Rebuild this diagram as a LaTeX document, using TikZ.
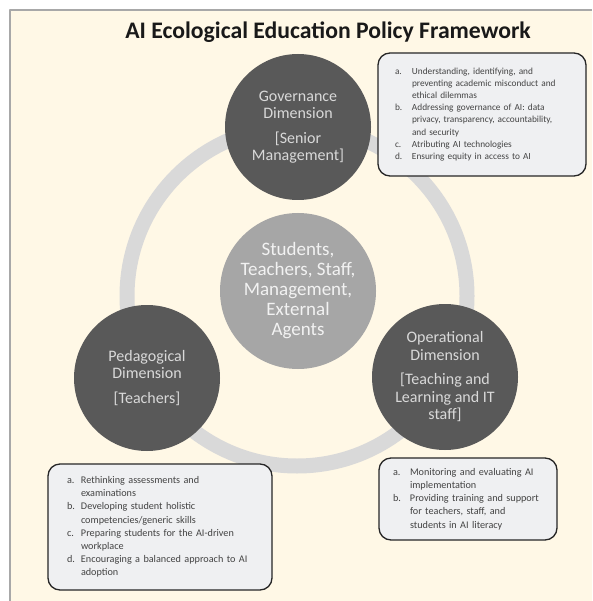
\documentclass[tikz,border=0pt]{standalone}
\usepackage{fontspec}
\setmainfont{Carlito}
\definecolor{paper}{HTML}{FFF8E6}
\definecolor{framegray}{HTML}{A8A8A8}
\definecolor{ringgray}{HTML}{D9D9D9}
\definecolor{hubgray}{HTML}{A6A6A6}
\definecolor{dimgray}{HTML}{595959}
\definecolor{dimtext}{HTML}{D9D9D9}
\definecolor{boxfill}{HTML}{EFF0F2}
\definecolor{boxtext}{HTML}{434343}

\begin{document}
\begin{tikzpicture}[
  x=1pt,
  y=-1pt,
  line join=round,
  frame/.style={draw=framegray,line width=1.6pt},
  ring/.style={draw=ringgray,line width=15pt},
  hub/.style={circle,fill=hubgray,minimum size=156pt,inner sep=0pt,text=white!95!black,align=center,font=\fontsize{19}{20}\selectfont},
  dimension/.style={circle,fill=dimgray,minimum size=146pt,inner sep=0pt,text=dimtext,align=center,font=\fontsize{16}{17.5}\selectfont},
  policybox/.style={draw=black!85,line width=1.3pt,rounded corners=12pt,fill=boxfill,text=boxtext,align=left,inner ysep=2pt}
]
  % Page and its cream panel.
  \useasboundingbox (0,0) rectangle (592,601);
  \fill[paper] (10,10) rectangle (592,601);
  \draw[frame] (10,601) -- (10,10) -- (592,10);

  % Title.
  \node[font=\fontsize{23.7}{28}\selectfont\bfseries,text=black!90,anchor=base] (title) at (328,39) {AI Ecological Education Policy Framework};

  % Ring joining the three dimensions.
  \coordinate (ringc) at (297,296);
  \draw[ring] (ringc) circle[radius=170];

  % Stakeholders in the middle.
  \node[hub] (hub) at (298,291) {Students,\\Teachers, Staff,\\Management,\\External\\Agents};

  % The three dimensions.
  \node[dimension] (gov) at (298,127) {Governance\\Dimension\\[7pt][Senior\\Management]};
  \node[dimension] (ped) at (147,378) {Pedagogical\\Dimension\\[7pt][Teachers]};
  \node[dimension] (ops) at (445,377) {Operational\\Dimension\\[7pt][Teaching and\\Learning and IT\\staff]};

  % Policy items for each dimension.
  \node[policybox,text width=174pt,inner xsep=17pt,minimum height=123pt,
        font=\fontsize{9.3}{12.1}\selectfont] (govbox) at (482,114.5) {%
    \begin{tabular}{@{}p{17pt}@{}l@{}}
      a. & Understanding, identifying, and\\
         & preventing academic misconduct and\\
         & ethical dilemmas\\
      b. & Addressing governance of AI: data\\
         & privacy, transparency, accountability,\\
         & and security\\
      c. & Atributing AI technologies\\
      d. & Ensuring equity in access to AI
    \end{tabular}};

  \node[policybox,text width=186pt,inner xsep=19pt,minimum height=126pt,
        font=\fontsize{10.2}{13.1}\selectfont] (pedbox) at (160,527) {%
    \begin{tabular}{@{}p{14pt}@{}l@{}}
      a. & Rethinking assessments and\\
         & examinations\\
      b. & Developing student holistic\\
         & competencies/generic skills\\
      c. & Preparing students for the AI-driven\\
         & workplace\\
      d. & Encouraging a balanced approach to AI\\
         & adoption
    \end{tabular}};

  \node[policybox,text width=150pt,inner xsep=14pt,minimum height=82pt,
        font=\fontsize{10.2}{13.3}\selectfont] (opsbox) at (468,499) {%
    \begin{tabular}{@{}p{17pt}@{}l@{}}
      a. & Monitoring and evaluating AI\\
         & implementation\\
      b. & Providing training and support\\
         & for teachers, staff, and\\
         & students in AI literacy
    \end{tabular}};
\end{tikzpicture}
\end{document}
